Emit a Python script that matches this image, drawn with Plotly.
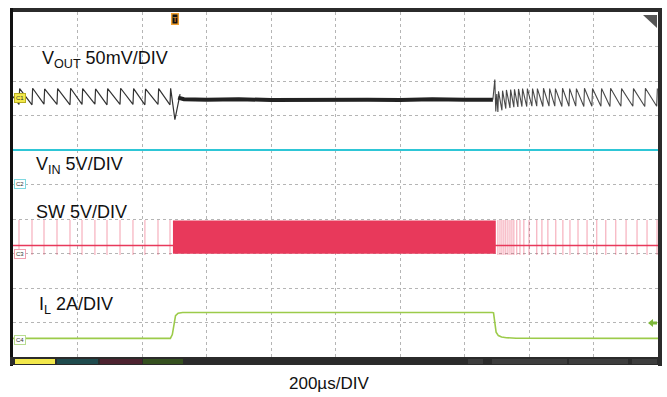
import plotly.graph_objects as go

# ---------------- data (time in µs, amplitude in screen divisions 0..10) ----------------
# VOUT, light-load (PFM) sawtooth before the load step
vout_left_rise_us = [18.6, 58.9, 96.1, 136.4, 176.7, 214.0, 254.0, 291.5, 331.8, 372.0, 409.0, 449.6, 486.8]
vout_left_peak = [7.78, 7.79, 7.77, 7.78, 7.79, 7.78, 7.77, 7.78, 7.79, 7.78, 7.77, 7.78, 7.79]
vout_left_trough = [7.32, 7.31, 7.33, 7.32, 7.31, 7.32, 7.33, 7.31, 7.32, 7.32, 7.31, 7.32, 7.31]
vout_dip_us = [502.0, 518.0]
vout_dip_v = [6.88, 7.62]
# VOUT during heavy load (continuous switching)
vout_flat_us = [512, 530, 600, 700, 800, 900, 1000, 1100, 1200, 1300, 1400, 1488]
vout_flat_v = [7.52, 7.47, 7.46, 7.47, 7.45, 7.46, 7.47, 7.46, 7.45, 7.47, 7.46, 7.46]
# VOUT load release transient
vout_spike_us = [1488, 1494, 1497, 1500]
vout_spike_v = [7.46, 8.04, 7.12, 7.62]
vout_right_rise_us = [1503.5, 1516, 1528, 1541, 1553, 1565.5, 1578, 1593, 1609, 1624, 1643, 1662,
                      1680, 1702, 1724, 1745, 1770, 1795, 1823, 1851, 1885, 1922, 1959, 1996]
vout_right_peak = [7.70, 7.72, 7.74, 7.75, 7.76, 7.77, 7.78, 7.78, 7.78, 7.78, 7.79, 7.78,
                   7.78, 7.79, 7.78, 7.78, 7.79, 7.78, 7.78, 7.79, 7.78, 7.78, 7.79, 7.78]
vout_right_trough = [7.10, 7.15, 7.20, 7.22, 7.24, 7.25, 7.26, 7.26, 7.27, 7.27, 7.26, 7.27,
                     7.27, 7.26, 7.27, 7.27, 7.26, 7.27, 7.27, 7.26, 7.27, 7.27, 7.26, 7.27]

# VIN
vin_us = [0, 2000]
vin_v = [6.0, 6.0]

# SW node
sw_base_v = 3.23
sw_pulse_top = 3.97
sw_pulse_bot = 2.96
sw_left_pulse_us = [18.6, 58.9, 96.1, 136.4, 176.7, 214.0, 254.0, 291.5, 331.8, 372.0, 409.0, 449.6, 486.8]
sw_right_pulse_us = [1503.5, 1510, 1516, 1522, 1528, 1534.5, 1541, 1547, 1553, 1562, 1572, 1584, 1600,
                     1624, 1640, 1658.5, 1683, 1705, 1727, 1752, 1780, 1810, 1838, 1869, 1901, 1935,
                     1966, 1997]
sw_block_us = [496, 1497]
sw_block_v = [2.99, 3.96]

# Inductor current
il_us = [0, 488, 494, 499, 504, 512, 526, 1486, 1490, 1494, 1498, 1505, 1515, 1530, 1560, 2000]
il_v = [0.54, 0.54, 0.65, 1.00, 1.20, 1.27, 1.29, 1.29, 1.28, 1.00, 0.72, 0.62, 0.58, 0.56, 0.545, 0.54]

trigger_us = 502
x_range = [0, 2000]
y_range = [0, 10]

# ---------------- build traces ----------------
def sawtooth(rises, peaks, troughs):
    xs, ys = [], []
    for t, p, tr in zip(rises, peaks, troughs):
        xs += [t, t + 2]
        ys += [tr, p]
    return xs, ys

lx, ly = sawtooth(vout_left_rise_us, vout_left_peak, vout_left_trough)
lx = [0] + lx + vout_dip_us
ly = [7.55] + ly + vout_dip_v
rx, ry = sawtooth(vout_right_rise_us, vout_right_peak, vout_right_trough)
rx = vout_spike_us + rx
ry = vout_spike_v + ry

def pulses(ts):
    xs, ys = [], []
    for t in ts:
        xs += [t, t, None]
        ys += [sw_pulse_bot, sw_pulse_top, None]
    return xs, ys

spx, spy = pulses(sw_left_pulse_us + sw_right_pulse_us)

SWC = "#E8395B"
fig = go.Figure()
fig.add_trace(go.Scatter(x=vin_us, y=vin_v, mode="lines", line=dict(color="#2EC6D6", width=2)))
fig.add_trace(go.Scatter(x=[x_range[0], x_range[1]], y=[sw_base_v, sw_base_v], mode="lines",
                         line=dict(color=SWC, width=1.5)))
fig.add_trace(go.Scatter(x=spx, y=spy, mode="lines", line=dict(color="rgba(232,57,91,0.4)", width=1.2)))
fig.add_trace(go.Scatter(x=[sw_block_us[0], sw_block_us[1], sw_block_us[1], sw_block_us[0], sw_block_us[0]],
                         y=[sw_block_v[0], sw_block_v[0], sw_block_v[1], sw_block_v[1], sw_block_v[0]],
                         mode="lines", fill="toself", fillcolor=SWC, line=dict(color=SWC, width=0)))
fig.add_trace(go.Scatter(x=il_us, y=il_v, mode="lines", line=dict(color="#9CCB4A", width=1.6)))
fig.add_trace(go.Scatter(x=lx, y=ly, mode="lines", line=dict(color="#333333", width=1.2)))
fig.add_trace(go.Scatter(x=vout_flat_us, y=vout_flat_v, mode="lines", line=dict(color="#222222", width=4)))
fig.add_trace(go.Scatter(x=rx, y=ry, mode="lines", line=dict(color="rgba(40,40,40,0.85)", width=1.1)))

W, H = 667, 397
L, R, T, B = 13, 9, 12, 40
pw, ph = W - L - R, H - T - B

def px(xp):
    return (xp - L) / pw

def py(yp):
    return (H - B - yp) / ph

shapes = []
def rect(x0, y0, x1, y1, color):
    shapes.append(dict(type="rect", xref="paper", yref="paper", x0=px(x0), x1=px(x1), y0=py(y1), y1=py(y0),
                       fillcolor=color, line=dict(width=0), layer="above"))

rect(10, 8, 662, 12, "#2b2b2b")      # top bar
rect(10, 8, 13, 366, "#111111")      # left bar
rect(658, 8, 662, 366, "#2b2b2b")    # right bar
rect(10, 357, 662, 365, "#2b2b2b")   # bottom bar
rect(15, 359, 55, 364, "#F2E84B")
rect(57, 359, 98, 364, "#1F4B4E")
rect(100, 359, 142, 364, "#4E2330")
rect(143, 359, 183, 364, "#35501F")
rect(468, 359, 483, 364, "#3d3d3d")
rect(492, 359, 567, 364, "#3d3d3d")
rect(569, 359, 628, 364, "#3d3d3d")
rect(632, 359, 657, 364, "#3d3d3d")
# top-right corner triangle
shapes.append(dict(type="path", xref="paper", yref="paper",
                   path=f"M {px(643)} {py(15)} L {px(657)} {py(15)} L {px(657)} {py(28)} Z",
                   fillcolor="#555555", line=dict(width=0), layer="above"))
# right-side green level arrow
shapes.append(dict(type="path", xref="paper", yref="paper",
                   path=(f"M {px(648)} {py(323)} L {px(653)} {py(319)} L {px(653)} {py(321.5)} "
                         f"L {px(657)} {py(321.5)} L {px(657)} {py(324.5)} L {px(653)} {py(324.5)} "
                         f"L {px(653)} {py(327)} Z"),
                   fillcolor="#7DB83A", line=dict(width=0), layer="above"))

FONT = "Liberation Sans, Arial, sans-serif"
ann = []
def label(text, xp, yp, size=18):
    ann.append(dict(text=text, xref="paper", yref="paper", x=px(xp), y=py(yp), xanchor="left",
                    yanchor="middle", showarrow=False, font=dict(family=FONT, size=size, color="#111111")))

label("V<sub>OUT</sub> 50mV/DIV", 40, 60)
label("V<sub>IN</sub> 5V/DIV", 34, 165)
label("SW 5V/DIV", 34, 212)
label("I<sub>L</sub> 2A/DIV", 37, 305)
ann.append(dict(text="200µs/DIV", xref="paper", yref="paper", x=px(329), y=py(383), xanchor="center",
                yanchor="middle", showarrow=False, font=dict(family=FONT, size=17, color="#111111")))

def chmark(text, yp, bg, border):
    ann.append(dict(text=text, xref="paper", yref="paper", x=px(14), y=py(yp), xanchor="left",
                    yanchor="middle", showarrow=False, bgcolor=bg, bordercolor=border, borderwidth=1,
                    borderpad=1, font=dict(family=FONT, size=6, color="#333333")))

chmark("C1", 98, "#F2E84B", "#B8AE20")
chmark("C2", 184, "#FFFFFF", "#7FD8E0")
chmark("C3", 254, "#FFFFFF", "#F0A0B0")
chmark("C4", 340, "#FFFFFF", "#B8DC90")

# trigger marker
ann.append(dict(text="T", xref="x", yref="paper", x=trigger_us, y=py(19), xanchor="center", yanchor="middle",
                showarrow=False, bgcolor="#111111", bordercolor="#F0A030", borderwidth=1.5, borderpad=0,
                font=dict(family=FONT, size=8, color="#F0A030")))

fig.update_layout(
    width=W, height=H,
    margin=dict(l=L, r=R, t=T, b=B),
    paper_bgcolor="white", plot_bgcolor="white",
    showlegend=False,
    shapes=shapes, annotations=ann,
    xaxis=dict(range=x_range, dtick=200, tick0=0, showgrid=True, gridcolor="#b5b5b5", griddash="dot",
               gridwidth=1, zeroline=False, showticklabels=False, showline=False, fixedrange=True),
    yaxis=dict(range=y_range, dtick=1, tick0=0, showgrid=True, gridcolor="#b5b5b5", griddash="dot",
               gridwidth=1, zeroline=False, showticklabels=False, showline=False, fixedrange=True),
)

fig.write_html("out.html", config={"displayModeBar": False})
